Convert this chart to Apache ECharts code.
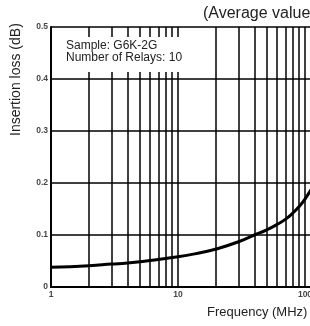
<!DOCTYPE html>
<html>
<head>
<meta charset="utf-8">
<script src="https://cdn.jsdelivr.net/npm/echarts@6/dist/echarts.min.js"></script>
<style>
  html, body { margin: 0; padding: 0; background: #fff; }
  #chart { width: 310px; height: 326px; }
</style>
</head>
<body>
<div id="chart"></div>
<script>
// 曲线数据：频率 (MHz) / 插入损耗 (dB)
const freqs = [1, 2, 3, 4, 6, 10, 15, 20, 30, 40, 50, 60, 70, 80, 90, 100, 120];
const loss = [0.038, 0.041, 0.044, 0.046, 0.051, 0.058, 0.066, 0.073, 0.087, 0.100, 0.110, 0.120, 0.130, 0.142, 0.155, 0.169, 0.20];
// 对数网格的细分线
const minorFreqs = [2, 3, 4, 5, 6, 7, 8, 9, 20, 30, 40, 50, 60, 70, 80, 90, 200, 300, 400, 500, 600, 700, 800, 900];
const yTicks = [0, 0.1, 0.2, 0.3, 0.4, 0.5];

const font = 'Liberation Sans, Arial, Helvetica, sans-serif';
const chart = echarts.init(document.getElementById('chart'));

chart.setOption({
  animation: false,
  grid: { left: 51, top: 27, width: 381, bottom: 39, containLabel: false, outerBoundsMode: 'none' },
  xAxis: {
    type: 'log',
    logBase: 10,
    min: 1,
    max: 1000,
    axisLine: { show: true, lineStyle: { color: '#000', width: 2 } },
    axisTick: { show: false },
    axisLabel: { color: '#444', fontSize: 8.5, fontWeight: 'bold', fontFamily: font, margin: 3, formatter: v => String(v) },
    splitLine: { show: true, lineStyle: { color: '#000', width: 1.5 } }
  },
  yAxis: {
    type: 'value',
    min: 0,
    max: 0.5,
    interval: 0.1,
    axisLine: { show: true, lineStyle: { color: '#000', width: 2 } },
    axisTick: { show: false },
    axisLabel: {
      color: '#444', fontSize: 8.5, fontWeight: 'bold', fontFamily: font, margin: 3,
      formatter: v => yTicks.includes(+v.toFixed(1)) ? (v === 0 ? '0' : v.toFixed(1)) : ''
    },
    splitLine: { show: true, lineStyle: { color: '#000', width: 1.5 } }
  },
  series: [{
    type: 'line',
    data: freqs.map((f, i) => [f, loss[i]]),
    smooth: true,
    showSymbol: false,
    lineStyle: { color: '#000', width: 3 },
    markLine: {
      silent: true,
      symbol: 'none',
      label: { show: false },
      lineStyle: { color: '#000', width: 1.5, type: 'solid' },
      data: minorFreqs.map(f => ({ xAxis: f }))
    }
  }],
  graphic: [
    { type: 'text', left: 203, top: 6, style: { text: '(Average value)', font: '16px ' + font, fill: '#222' } },
    {
      type: 'text', left: 62, top: 37, z: 100,
      style: {
        text: 'Sample: G6K-2G\nNumber of Relays: 10', font: '12px ' + font, fill: '#222', lineHeight: 12,
        backgroundColor: '#fff', padding: [3, 6, 8, 4]
      }
    },
    { type: 'text', left: 207, top: 306, style: { text: 'Frequency (MHz)', font: '13px ' + font, fill: '#222' } },
    { type: 'text', x: 9, y: 136, rotation: Math.PI / 2, style: { text: 'Insertion loss (dB)', font: '14px ' + font, fill: '#222', align: 'left', verticalAlign: 'top' } }
  ]
});
</script>
</body>
</html>
